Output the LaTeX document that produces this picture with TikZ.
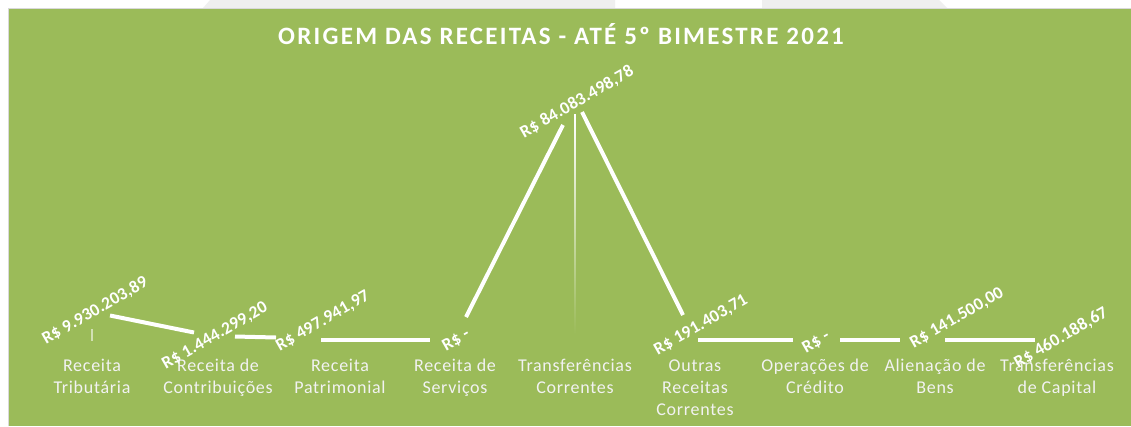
\documentclass[tikz,border=0pt]{standalone}
\usepackage{fontspec}
\setmainfont{Carlito}
\newfontfamily\titlefont[LetterSpace=9]{Carlito}
\newfontfamily\catfont[LetterSpace=4]{Carlito}
\newfontfamily\valfont[LetterSpace=1]{Carlito}
\definecolor{chartgreen}{HTML}{9BBB59}
\definecolor{topgray}{HTML}{EFEFEF}
\definecolor{bordergray}{HTML}{D9D9D9}
\definecolor{catwhite}{HTML}{F2F2F2}
\begin{document}
\begin{tikzpicture}[x=1pt,y=-1pt,
  seg/.style={draw=white,line width=4pt},
  cat/.style={font=\catfont\fontsize{18}{22}\selectfont,text=catwhite,align=center,anchor=north,inner sep=0pt},
  val/.style={font=\valfont\bfseries\fontsize{17.5}{20}\selectfont,text=white,rotate=30,inner sep=0pt,anchor=center},
  charttitle/.style={font=\titlefont\bfseries\fontsize{25}{29}\selectfont,text=white,inner sep=0pt,anchor=base}]
\useasboundingbox (0,0) rectangle (1131,426);
\fill[white] (0,0) rectangle (1131,426);
\fill[topgray] (203,8) -- (210,0) -- (615,0) -- (615,8) -- cycle;
\fill[topgray] (762,0) -- (939,0) -- (947,8) -- (762,8) -- cycle;
\fill[chartgreen] (9,9) rectangle (1131,426);
\draw[bordergray,line width=1pt] (8.5,426) -- (8.5,8.5) -- (1131,8.5);

\node[charttitle] (title) at (561,44) {ORIGEM DAS RECEITAS - ATÉ 5º BIMESTRE 2021};

% thin drop lines
\shade[top color=white,bottom color=chartgreen] (574.2,114) rectangle (575.8,334);
\fill[white!55!chartgreen] (91.4,329) rectangle (92.6,341);

% line segments
\coordinate (s1a) at (110,315.5); \coordinate (s1b) at (194,332.5);
\coordinate (s2a) at (235,336.5); \coordinate (s2b) at (276,337.5);
\coordinate (s3a) at (321,339.5); \coordinate (s3b) at (430,339.5);
\coordinate (s4a) at (466,317);   \coordinate (s4b) at (563,125);
\coordinate (s5a) at (582,112);   \coordinate (s5b) at (683,315);
\coordinate (s6a) at (698,340);   \coordinate (s6b) at (793,340);
\coordinate (s7a) at (840,340);   \coordinate (s7b) at (900,340);
\coordinate (s8a) at (945,340);   \coordinate (s8b) at (1035,340);
\foreach \s in {1,...,8} {\draw[seg] (s\s a) -- (s\s b);}

% category labels
\node[cat] (c1) at (92,357)   {\rule{0pt}{14pt}Receita\\Tributária};
\node[cat] (c2) at (218,357)  {\rule{0pt}{14pt}Receita de\\Contribuições};
\node[cat] (c3) at (340,357)  {\rule{0pt}{14pt}Receita\\Patrimonial};
\node[cat] (c4) at (455,357)  {\rule{0pt}{14pt}Receita de\\Serviços};
\node[cat] (c5) at (575,357)  {\rule{0pt}{14pt}Transferências\\Correntes};
\node[cat] (c6) at (695,357)  {\rule{0pt}{14pt}Outras\\Receitas\\Correntes};
\node[cat] (c7) at (815,357)  {\rule{0pt}{14pt}Operações de\\Crédito};
\node[cat] (c8) at (935,357)  {\rule{0pt}{14pt}Alienação de\\Bens};
\node[cat] (c9) at (1057,357) {\rule{0pt}{14pt}Transferências\\de Capital};

% value labels
\node[val] (v1) at (95,311)  {R\$ 9.930.203,89};
\node[val] (v2) at (215,336) {R\$ 1.444.299,20};
\node[val] (v3) at (323,321) {R\$ 497.941,97};
\node[val] (v4) at (456,340) {R\$ -};
\node[val] (v5) at (577,102) {R\$ 84.083.498,78};
\node[val] (v6) at (701,325) {R\$ 191.403,71};
\node[val] (v7) at (816,342) {R\$ -};
\node[val] (v8) at (957,318) {R\$ 141.500,00};
\node[val] (v9) at (1061,338) {R\$ 460.188,67};
\end{tikzpicture}
\end{document}
